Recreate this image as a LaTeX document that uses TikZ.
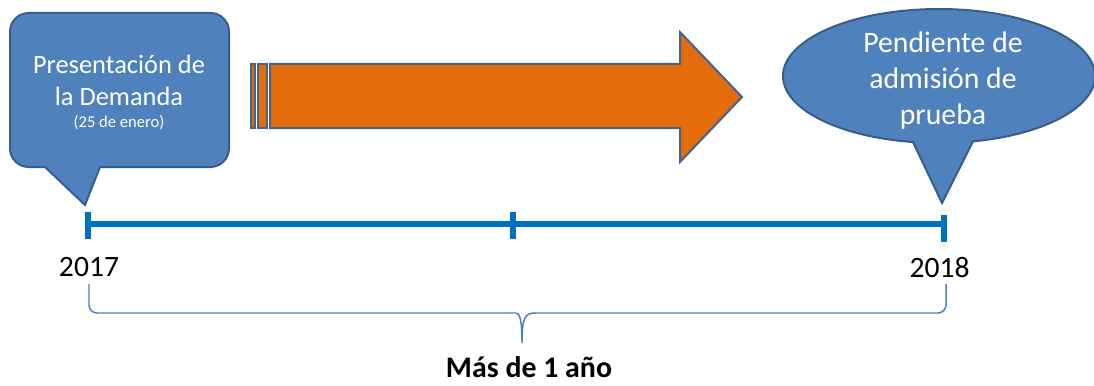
\documentclass[tikz,border=0pt]{standalone}
\usepackage{fontspec}
\setmainfont{Carlito}
\definecolor{calloutblue}{HTML}{4F81BD}
\definecolor{calloutedge}{HTML}{385D8A}
\definecolor{arroworange}{HTML}{E46C0A}
\definecolor{arrowedge}{HTML}{3F6597}
\definecolor{lineblue}{HTML}{0070C0}
\definecolor{braceblue}{HTML}{4A7EBB}

\begin{document}
\begin{tikzpicture}[x=0.75pt, y=-0.75pt,
        callout/.style={fill=calloutblue, draw=calloutedge, line width=1.5pt},
        arrowpart/.style={fill=arroworange, draw=arrowedge, line width=1.5pt},
        callouttext/.style={text=white, align=center, inner sep=0pt},
        yearlabel/.style={font=\fontsize{22.2}{27}\selectfont, inner sep=0pt, anchor=base},
        timeline/.style={draw=lineblue, line width=4.5pt},
        tick/.style={draw=lineblue, line width=5pt}]
        \useasboundingbox (0,0) rectangle (1094,385);
        \draw[callout] (100,167) [rounded corners=14pt] -- (229,167) -- (229,13)
            -- (10,13) -- (10,167) [sharp corners] -- (45,167) -- (85,205) -- cycle;
        \node[callouttext, font=\fontsize{19.8}{24}\selectfont, anchor=base] (demanda) at (119,105) {Presentación de\\la Demanda};
        \node[callouttext, font=\fontsize{12.4}{15}\selectfont, anchor=base] (fecha) at (119,127) {(25 de enero)};
        \draw[arrowpart] (251,64) rectangle (255,128);
        \draw[arrowpart] (258,64) rectangle (267,128);
        \draw[arrowpart] (270,64) -- (680,64) -- (680,32) -- (742,97)
            -- (680,162) -- (680,128) -- (270,128) -- cycle;
        \draw[callout] (942,203) -- (973,141.4)
            arc[start angle=-77.4, end angle=260.4, x radius=117pt, y radius=50.25pt] -- cycle;
        \node[callouttext, font=\fontsize{22.3}{27}\selectfont, anchor=base] (pendiente) at (943,124) {Pendiente de\\admisión de\\prueba};
        \coordinate (t0) at (88,224);
        \coordinate (t1) at (513,224);
        \coordinate (t2) at (944,224);
        \draw[timeline] (t0) -- (t2);
        \draw[tick] (88,212) -- (88,239);
        \draw[tick] (513,212) -- (513,239);
        \draw[tick] (944,215) -- (944,242);
        \node[yearlabel] (inicio) at (89,276) {2017};
        \node[yearlabel] (fin) at (939.5,277) {2018};
        \draw[draw=braceblue, line width=1.1pt] (89,284) [rounded corners=6pt] -- (89,313) -- (508,313)
            [sharp corners] .. controls (519,313) and (522,317) .. (522,343)
            .. controls (522,317) and (525,313) .. (536,313)
            [rounded corners=6pt] -- (946,313) -- (946,284);
        \node[font=\bfseries\fontsize{22.4}{27}\selectfont, inner sep=0pt, anchor=base] (duracion) at (529,377) {Más de 1 año};
    \end{tikzpicture}
\end{document}
